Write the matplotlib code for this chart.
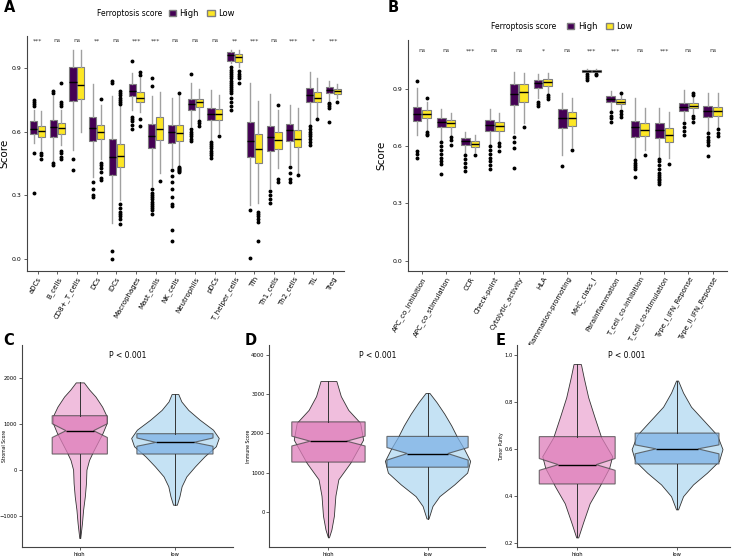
import numpy as np
import matplotlib
matplotlib.use("Agg")
import matplotlib.pyplot as plt
from matplotlib.patches import Patch

# ---------- panel A: immune cells ----------
cells = ["aDCs", "B_cells", "CD8+_T_cells", "DCs", "iDCs", "Macrophages", "Mast_cells",
         "NK_cells", "Neutrophils", "pDCs", "T_helper_cells", "Tfh", "Th1_cells",
         "Th2_cells", "TIL", "Treg"]
cells_sig = ["***", "ns", "ns", "**", "ns", "***", "***", "ns", "ns", "ns", "**",
             "***", "ns", "***", "*", "***"]
a_high_q1 = [.590, .575, .746, .556, .396, .765, .522, .548, .702, .652, .933, .482, .509, .556, .737, .781]
a_high_med = [.613, .620, .833, .617, .481, .792, .581, .597, .730, .683, .961, .556, .573, .605, .773, .796]
a_high_q3 = [.650, .655, .906, .668, .565, .823, .636, .631, .755, .713, .974, .643, .628, .635, .804, .809]
a_high_lo = [.545, .459, .514, .388, .168, .702, .341, .435, .624, .556, .922, .254, .333, .446, .634, .749]
a_high_hi = [.702, .765, .982, .823, .765, .875, .765, .760, .828, .796, .983, .828, .777, .726, .880, .838]
a_high_out = [[.72, .73, .74, .75, .50, .31], [.78, .79, .45, .44], [.47, .42], [.36, .33, .30, .29],
              [.83, .84, .035, .0], [.93, .67, .66, .65, .63, .61],
              [.851, .815, .33, .31, .30, .29, .28, .27, .26, .25, .24, .23, .21],
              [.42, .39, .36, .33, .29, .26, .25, .137, .084], [.87, .61, .60, .59, .58, .565, .553],
              [.55, .54, .53, .52, .51, .50, .49, .474],
              [.906, .89, .88, .87, .86, .85, .84, .83, .82, .81, .80, .79, .78, .76, .74, .72, .70],
              [.231, .003], [.318, .30, .28, .264], [.435, .404, .375, .36],
              [.624, .61, .60, .59, .58, .565, .55, .537], [.736, .73, .72, .71, .643]]
a_low_q1 = [.576, .590, .754, .564, .432, .738, .561, .556, .715, .655, .928, .454, .517, .525, .737, .777]
a_low_med = [.603, .617, .818, .600, .485, .760, .613, .594, .737, .681, .950, .518, .561, .566, .760, .790]
a_low_q3 = [.627, .640, .903, .630, .540, .785, .666, .631, .752, .705, .966, .588, .597, .608, .785, .799]
a_low_lo = [.514, .537, .597, .470, .278, .694, .404, .443, .655, .592, .906, .265, .427, .404, .667, .757]
a_low_hi = [.697, .702, .982, .726, .718, .851, .788, .775, .799, .773, .982, .746, .702, .710, .851, .823]
a_low_out = [[.50, .49, .47], [.72, .73, .74, .83, .51, .50, .48, .47], [], [.755, .45, .44, .43, .41, .38, .37],
             [.73, .74, .75, .76, .77, .78, .79, .26, .24, .22, .21, .20, .19, .165], [.867, .878, .658, .627],
             [.367], [.783, .435, .43, .425, .42, .415, .41], [.648, .638, .628], [.577],
             [.883, .87, .86, .85, .828], [.223, .21, .20, .19, .176, .083], [.726, .377, .361], [.395],
             [.658], [.741]]

# ---------- panel B: immune functions ----------
funcs = ["APC_co_inhibition", "APC_co_stimulation", "CCR", "Check-point", "Cytolytic_activity",
         "HLA", "Inflammation-promoting", "MHC_class_I", "Parainflammation",
         "T_cell_co-inhibition", "T_cell_co-stimulation", "Type_I_IFN_Reponse", "Type_II_IFN_Reponse"]
funcs_sig = ["ns", "ns", "***", "ns", "ns", "*", "ns", "***", "***", "ns", "***", "ns", "ns"]
b_high_q1 = [.732, .699, .606, .681, .816, .903, .697, .990, .830, .650, .644, .786, .753]
b_high_med = [.768, .728, .627, .711, .873, .929, .746, .994, .847, .699, .683, .806, .786]
b_high_q3 = [.805, .749, .641, .737, .924, .947, .795, .999, .863, .733, .720, .828, .809]
b_high_lo = [.658, .627, .562, .609, .667, .850, .554, .981, .790, .536, .545, .737, .672]
b_high_hi = [.906, .795, .672, .795, .990, .976, .876, 1.003, .891, .850, .802, .893, .880]
b_high_out = [[.943, .575, .56, .54], [.62, .60, .58, .56, .54, .52, .504, .455], [.553, .53, .51, .49, .47],
              [.602, .58, .56, .54, .52, .50, .48], [.65, .62, .589, .483], [.833, .82, .812], [.496],
              [.976, .965, .955, .946], [.78, .76, .745, .728],
              [.527, .51, .50, .49, .48, .437],
              [.533, .52, .50, .48, .46, .45, .44, .43, .42, .41, .40], [.72, .70, .68, .659],
              [.667, .65, .63, .62, .606, .549]]
b_low_q1 = [.746, .702, .597, .681, .833, .917, .706, .990, .819, .655, .623, .798, .760]
b_low_med = [.768, .720, .611, .706, .882, .934, .746, .994, .833, .686, .658, .812, .784]
b_low_q3 = [.789, .737, .627, .728, .924, .952, .777, .998, .845, .723, .697, .824, .804]
b_low_lo = [.685, .658, .567, .620, .720, .876, .597, .984, .798, .580, .536, .772, .702]
b_low_hi = [.832, .773, .658, .773, .981, .981, .854, 1.002, .871, .802, .777, .860, .876]
b_low_out = [[.854, .676, .665, .658], [.65, .63, .606], [.553], [.614, .60, .574], [.699], [.867, .855, .846],
             [.58], [.98, .972], [.88, .784, .77, .755], [.554], [.506], [.876, .868, .76, .745, .728],
             [.69, .67, .655]]

# ---------- panels C-E: violins ----------
groups = ["high", "low"]
c_high_y = [1898, 1740, 1590, 1370, 1174, 1000, 800, 600, 400, 210, 0, -290, -580, -870, -1160, -1485]
c_high_w = [.042, .10, .165, .235, .28, .28, .24, .19, .14, .097, .07, .065, .053, .035, .023, .005]
c_low_y = [1645, 1485, 1300, 1087, 870, 690, 510, 290, 72, -145, -360, -580, -761]
c_low_w = [.035, .067, .14, .26, .40, .46, .43, .31, .21, .12, .07, .047, .02]
c_box = [[341, 848, 1174, 700, 1000], [341, 594, 783, 510, 690]]   # q1, med, q3, notch lo, notch hi

d_high_y = [3335, 2950, 2600, 2270, 1840, 1250, 830, 410, -100, -450, -650]
d_high_w = [.08, .125, .20, .32, .35, .22, .10, .07, .055, .03, .005]
d_low_y = [3030, 2800, 2500, 2200, 1900, 1600, 1300, 1000, 700, 400, 150, -170]
d_low_w = [.02, .09, .17, .24, .30, .37, .43, .40, .27, .12, .05, .01]
d_box = [[1269, 1802, 2294, 1680, 1930], [1139, 1487, 1924, 1320, 1640]]

e_high_y = [.961, .90, .82, .74, .65, .57, .52, .44, .37, .29, .225]
e_high_w = [.037, .067, .11, .17, .24, .35, .32, .22, .125, .06, .01]
e_low_y = [.891, .84, .78, .72, .66, .60, .55, .50, .45, .40, .344]
e_low_w = [.01, .06, .14, .27, .40, .455, .42, .30, .16, .06, .01]
e_box = [[.452, .534, .653, .51, .56], [.537, .601, .668, .58, .618]]

HIGH_C = "#440154"
LOW_C = "#FDE725"

fig = plt.figure(figsize=(7.39, 5.56), dpi=100)


def style_ax(ax, lsize, pad=1.5):
    for s in ["top", "right"]:
        ax.spines[s].set_visible(False)
    for s in ["left", "bottom"]:
        ax.spines[s].set_color("#444444")
        ax.spines[s].set_linewidth(0.8)
    ax.tick_params(length=2, width=0.6, color="#444444", labelsize=lsize, pad=pad)


def grouped_box(ax, names, sig, hq1, hmed, hq3, hlo, hhi, hout, lq1, lmed, lq3, llo, lhi, lout, sig_y, ylab_x):
    pos = np.arange(1, len(names) + 1)
    for q1, med, q3, lo, hi, out, off, col in [
            (hq1, hmed, hq3, hlo, hhi, hout, -0.2, HIGH_C),
            (lq1, lmed, lq3, llo, lhi, lout, 0.2, LOW_C)]:
        stats = [dict(med=m, q1=a, q3=b, whislo=l, whishi=h, fliers=f)
                 for m, a, b, l, h, f in zip(med, q1, q3, lo, hi, out)]
        ax.bxp(stats, positions=pos + off, widths=0.36, patch_artist=True, showcaps=False,
               boxprops=dict(facecolor=col, edgecolor="#7f7f7f", linewidth=0.8),
               medianprops=dict(color="black", linewidth=1),
               whiskerprops=dict(color="#a0a0a0", linewidth=1),
               flierprops=dict(marker="o", markersize=1.8, markerfacecolor="black",
                               markeredgecolor="black"))
    for p, s in zip(pos, sig):
        ax.text(p, sig_y, s, ha="center", va="center", fontsize=4.5, color="#333333")
    ax.set_xticks(pos)
    ax.set_xticklabels(names, rotation=60, ha="right", rotation_mode="anchor", fontsize=5)
    ax.set_yticks([0.0, 0.3, 0.6, 0.9])
    ax.set_yticklabels(["0.0", "0.3", "0.6", "0.9"])
    ax.set_ylabel("Score", fontsize=7.5)
    ax.yaxis.set_label_coords(ylab_x, 0.5)
    style_ax(ax, 4.5)
    ax.tick_params(axis="x", labelsize=5)


axA = fig.add_axes([0.0361, 0.5126, 0.4294, 0.4227])
grouped_box(axA, cells, cells_sig, a_high_q1, a_high_med, a_high_q3, a_high_lo, a_high_hi, a_high_out,
            a_low_q1, a_low_med, a_low_q3, a_low_lo, a_low_hi, a_low_out, 1.027, -0.056)
axA.set_xlim(0.45, 16.55)
axA.set_ylim(-0.057, 1.05)

axB = fig.add_axes([0.5517, 0.5126, 0.4317, 0.4155])
grouped_box(axB, funcs, funcs_sig, b_high_q1, b_high_med, b_high_q3, b_high_lo, b_high_hi, b_high_out,
            b_low_q1, b_low_med, b_low_q3, b_low_lo, b_low_hi, b_low_out, 1.10, -0.068)
axB.set_xlim(0.42, 13.58)
axB.set_ylim(-0.054, 1.156)

# legends (title written inline, as in ggplot's top legend)
fig.text(0.176, 0.976, "Ferroptosis score", fontsize=5.5, ha="center", va="center")
fig.text(0.708, 0.952, "Ferroptosis score", fontsize=5.5, ha="center", va="center")
handles = [Patch(facecolor=HIGH_C, edgecolor="#7f7f7f", label="High"),
           Patch(facecolor=LOW_C, edgecolor="#7f7f7f", label="Low")]
fig.legend(handles=handles, loc="center left", bbox_to_anchor=(0.218, 0.976), ncol=2, frameon=False,
           fontsize=6, handlelength=0.9, handleheight=0.8, columnspacing=1.0, handletextpad=0.4)
fig.legend(handles=handles, loc="center left", bbox_to_anchor=(0.757, 0.952), ncol=2, frameon=False,
           fontsize=6, handlelength=0.9, handleheight=0.8, columnspacing=1.0, handletextpad=0.4)

VH_FILL, VH_BOX = "#F0BEDD", "#DE7DBA"
VL_FILL, VL_BOX = "#C5E2F4", "#7FB3E6"


def violin_panel(ax, hy, hw, ly, lw, boxes, box_w, ylabel, yticks, yticklabels, ylim, xlim, ylab_x):
    for i, (vy, vw, fc, bc) in enumerate([(hy, hw, VH_FILL, VH_BOX), (ly, lw, VL_FILL, VL_BOX)]):
        p = i + 1
        vy = np.array(vy)
        vw = np.array(vw)
        ax.fill_betweenx(vy, p - vw, p + vw, facecolor=fc, edgecolor="#333333", linewidth=0.6, zorder=1)
        q1, med, q3, clo, chi = boxes[i]
        st = [dict(med=med, q1=q1, q3=q3, whislo=vy.min(), whishi=vy.max(), cilo=clo, cihi=chi, fliers=[])]
        ax.bxp(st, positions=[p], widths=box_w[i] * 2, patch_artist=True, shownotches=True,
               showcaps=False, showfliers=False,
               boxprops=dict(facecolor=bc, edgecolor="#444444", linewidth=0.8, alpha=0.75),
               medianprops=dict(color="black", linewidth=1),
               whiskerprops=dict(color="#333333", linewidth=0.7), zorder=2)
    ax.set_xticks([1, 2])
    ax.set_xticklabels(groups)
    ax.set_yticks(yticks)
    ax.set_yticklabels(yticklabels)
    ax.set_ylabel(ylabel, fontsize=3.3)
    ax.yaxis.set_label_coords(ylab_x, 0.5)
    ax.set_ylim(*ylim)
    ax.set_xlim(*xlim)
    ax.text(1.5, ylim[0] + (ylim[1] - ylim[0]) * 0.95, "P < 0.001", ha="center", va="center", fontsize=5.5)
    style_ax(ax, 3.8, pad=1.2)


axC = fig.add_axes([0.0294, 0.0156, 0.2859, 0.3639])
violin_panel(axC, c_high_y, c_high_w, c_low_y, c_low_w, c_box, [0.29, 0.40], "Stromal Score",
             [-1000, 0, 1000, 2000], ["\u22121000", "0", "1000", "2000"], (-1687, 2711), (0.39, 2.61), -0.072)

axD = fig.add_axes([0.364, 0.0156, 0.2923, 0.3639])
violin_panel(axD, d_high_y, d_high_w, d_low_y, d_low_w, d_box, [0.37, 0.41], "Immune Score",
             [0, 1000, 2000, 3000, 4000], ["0", "1000", "2000", "3000", "4000"], (-904, 4254), (0.4, 2.58),
             -0.082)

axE = fig.add_axes([0.700, 0.0156, 0.2878, 0.3639])
violin_panel(axE, e_high_y, e_high_w, e_low_y, e_low_w, e_box, [0.38, 0.42], "Tumor Purity",
             [0.2, 0.4, 0.6, 0.8, 1.0], ["0.2", "0.4", "0.6", "0.8", "1.0"], (0.183, 1.042), (0.4, 2.53),
             -0.063)

for lbl, x, y in [("A", 0.005, 0.986), ("B", 0.525, 0.987), ("C", 0.004, 0.388), ("D", 0.331, 0.388),
                  ("E", 0.670, 0.388)]:
    fig.text(x, y, lbl, fontsize=10.5, fontweight="bold", ha="left", va="center")

fig.savefig("out.png", dpi=100)
